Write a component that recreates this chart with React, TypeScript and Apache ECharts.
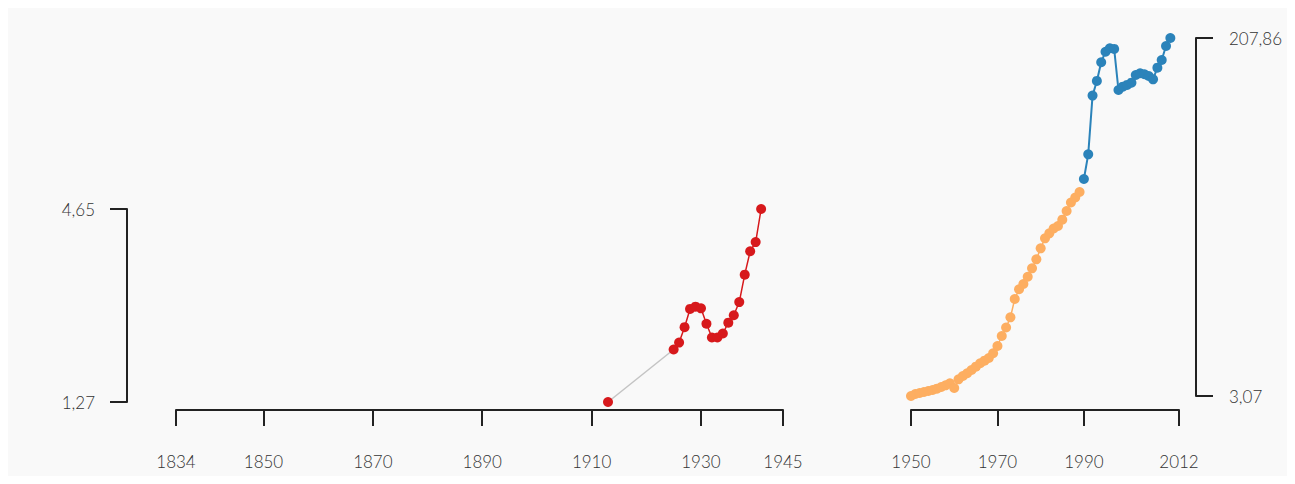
import React, { useEffect, useRef } from "react";
import * as echarts from "echarts";

// Left panel (red series; first point joined by a grey connector)
const leftYears = [1913, 1925, 1926, 1927, 1928, 1929, 1930, 1931, 1932, 1933, 1934, 1935, 1936, 1937, 1938, 1939, 1940, 1941];
const leftValues = [1.27, 2.19, 2.31, 2.58, 2.9, 2.94, 2.91, 2.64, 2.4, 2.4, 2.47, 2.66, 2.79, 3.02, 3.5, 3.91, 4.07, 4.65];

// Right panel, orange part
const orangeYears = [1950, 1951, 1952, 1953, 1954, 1955, 1956, 1957, 1958, 1959, 1960, 1961, 1962, 1963, 1964, 1965, 1966, 1967, 1968, 1969, 1970, 1971, 1972, 1973, 1974, 1975, 1976, 1977, 1978, 1979, 1980, 1981, 1982, 1983, 1984, 1985, 1986, 1987, 1988, 1989];
const orangeValues = [3.07, 4.21, 4.79, 5.36, 5.93, 6.5, 7.25, 8.22, 9.19, 10.33, 7.65, 12.62, 14.51, 16.06, 17.94, 19.83, 21.78, 23.26, 24.81, 27.5, 31.67, 37.39, 42.25, 48.09, 58.56, 64.11, 67.14, 71.31, 76.12, 81.27, 87.56, 93.28, 96.14, 98.89, 100.32, 103.92, 108.9, 113.76, 116.62, 119.77];

// Right panel, blue part
const blueYears = [1990, 1991, 1992, 1993, 1994, 1995, 1996, 1997, 1998, 1999, 2000, 2001, 2002, 2003, 2004, 2005, 2006, 2007, 2008, 2009, 2010];
const blueValues = [127.2, 141.3, 174.9, 183.3, 194.0, 200.0, 202.0, 201.6, 178.1, 180.0, 181.0, 182.3, 186.7, 187.7, 187.1, 186.1, 184.2, 190.9, 195.3, 203.3, 207.86];

// Tick values
const leftXTicks = [1834, 1850, 1870, 1890, 1910, 1930, 1945];
const rightXTicks = [1950, 1970, 1990, 2012];
const leftYTicks = [1.27, 4.65];
const rightYTicks = [3.07, 207.86];

const RED = "#d7191c";
const ORANGE = "#fdae61";
const BLUE = "#2b83ba";
const GREY = "#c4c4c4";
const AXIS = "#222";
const TEXT = "#333";
const FONT = "Lato";

const pairs = (xs: number[], ys: number[]) => xs.map((x, i) => [x, ys[i]]);
const decimal = (v: number) => v.toFixed(2).replace(".", ",");

export default function App() {
  const ref = useRef<HTMLDivElement>(null);

  useEffect(() => {
    if (!ref.current) return;
    const chart = echarts.init(ref.current, null, { renderer: "svg" });

    const labelStyle = { fontSize: 17, color: TEXT, fontFamily: FONT, fontWeight: 300 as any };
    const axisLine = { show: true, lineStyle: { color: AXIS, width: 2 } };

    const xAxis = (gridIndex: number, min: number, max: number, ticks: number[], offset: number) => ({
      type: "value",
      gridIndex,
      min,
      max,
      position: "bottom",
      offset,
      axisLine,
      splitLine: { show: false },
      axisTick: { show: true, length: 16, customValues: ticks, lineStyle: { color: AXIS, width: 2 } },
      axisLabel: { ...labelStyle, margin: 43, customValues: ticks, formatter: (v: number) => String(v) },
    });

    const yAxis = (gridIndex: number, min: number, max: number, ticks: number[], position: string, offset: number, margin: number) => ({
      type: "value",
      gridIndex,
      min,
      max,
      position,
      offset,
      axisLine,
      splitLine: { show: false },
      axisTick: { show: true, length: 17, customValues: ticks, lineStyle: { color: AXIS, width: 2 } },
      axisLabel: { ...labelStyle, margin, customValues: ticks, formatter: (v: number) => decimal(v) },
    });

    const lineSeries = (xi: number, data: any[], color: string, width: number, showSymbol = true, z = 3) => ({
      type: "line",
      xAxisIndex: xi,
      yAxisIndex: xi,
      data,
      symbol: "circle",
      symbolSize: 10,
      showSymbol,
      z,
      itemStyle: { color },
      lineStyle: { color, width },
      emphasis: { disabled: true },
    });

    chart.setOption({
      animation: false,
      backgroundColor: "#f9f9f9",
      grid: [
        { left: 168, top: 201, width: 607, height: 193 },
        { left: 903, top: 30, width: 268, height: 358 },
      ],
      xAxis: [
        xAxis(0, 1834, 1945, leftXTicks, 8),
        xAxis(1, 1950, 2012, rightXTicks, 14),
      ],
      yAxis: [
        yAxis(0, 1.27, 4.65, leftYTicks, "left", 49, 32),
        yAxis(1, 3.07, 207.86, rightYTicks, "right", 17, 33),
      ],
      series: [
        lineSeries(0, pairs(leftYears.slice(0, 2), leftValues.slice(0, 2)), GREY, 1.5, false, 2),
        lineSeries(0, pairs(leftYears.slice(0, 1), leftValues.slice(0, 1)), RED, 1.5),
        lineSeries(0, pairs(leftYears.slice(1), leftValues.slice(1)), RED, 1.5),
        lineSeries(1, pairs(orangeYears, orangeValues), ORANGE, 1.5),
        lineSeries(1, pairs(blueYears, blueValues), BLUE, 2),
      ],
    });

    return () => chart.dispose();
  }, []);

  return <div ref={ref} style={{ width: 1279, height: 468 }} />;
}
